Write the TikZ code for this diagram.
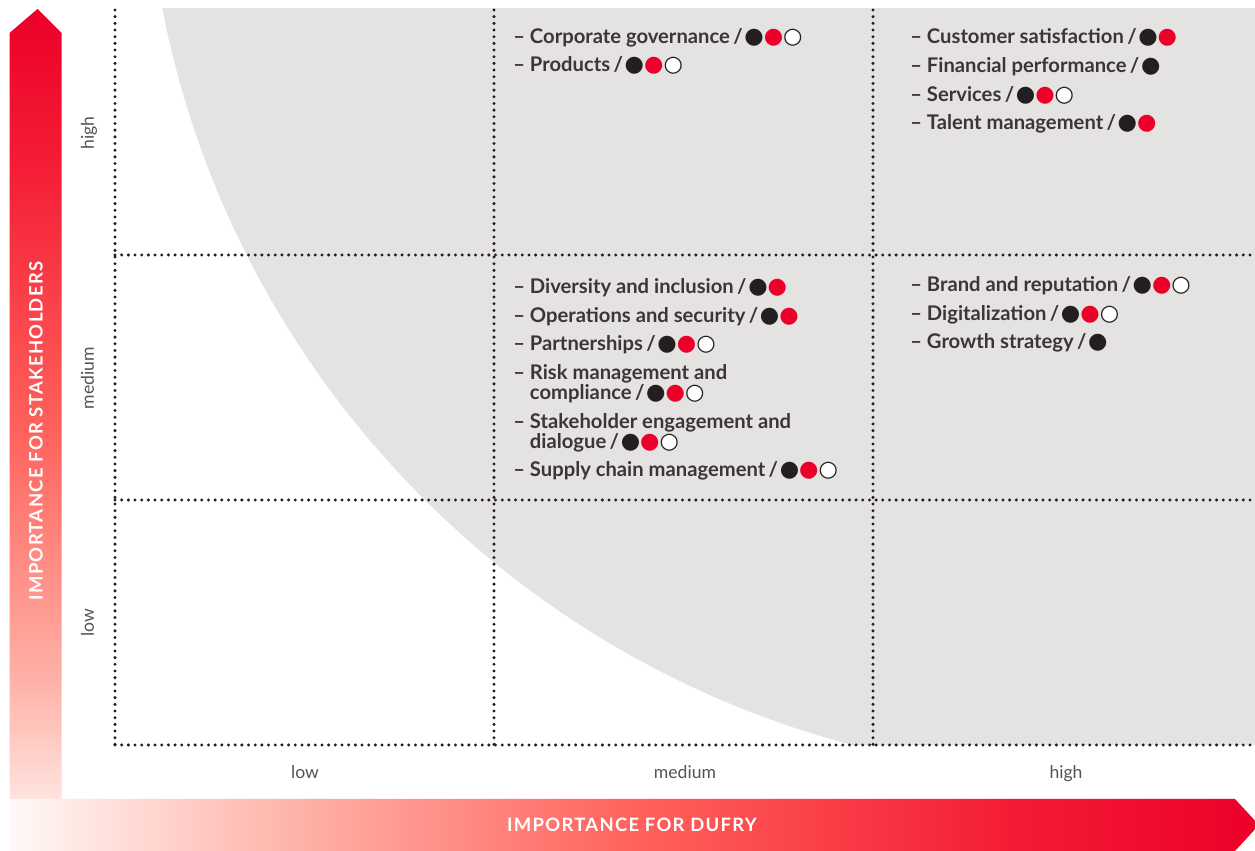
\documentclass[tikz,border=0pt]{standalone}
\usepackage{fontspec}
\setmainfont{Lato}
\newfontfamily\symfont[Scale=1.1]{DejaVu Sans}
\usetikzlibrary{positioning}

\definecolor{dufryred}{RGB}{236,0,41}
\definecolor{redpale}{RGB}{255,249,247}
\definecolor{redlight}{RGB}{255,178,168}
\definecolor{redmid}{RGB}{255,98,92}
\definecolor{reddeep}{RGB}{244,28,52}
\definecolor{matrixgray}{RGB}{228,227,226}
\definecolor{textdark}{RGB}{58,53,54}
\definecolor{dotdark}{RGB}{35,31,32}
\definecolor{axisgray}{RGB}{85,83,83}

\pgfdeclareverticalshading{stakeshade}{100bp}{color(0bp)=(redpale); color(25bp)=(redpale); color(35bp)=(redlight); color(50bp)=(redmid); color(66bp)=(reddeep); color(75bp)=(dufryred); color(100bp)=(dufryred)}
\pgfdeclarehorizontalshading{dufryshade}{100bp}{color(0bp)=(redpale); color(25bp)=(redpale); color(36.5bp)=(redlight); color(50bp)=(redmid); color(65bp)=(reddeep); color(75bp)=(dufryred); color(100bp)=(dufryred)}

% rating dots
\newcommand{\db}{{\symfont\textcolor{dotdark}{●}}}
\newcommand{\dr}{{\symfont\textcolor{dufryred}{●}}}
\newcommand{\dw}{{\symfont\rlap{\textcolor{white}{●}}\textcolor{dotdark}{○}}}
\newcommand{\slsh}{\,/\kern1pt}

\begin{document}
\begin{tikzpicture}[x=0.02cm, y=0.02cm,
	grid/.style={dotdark, line width=1.9pt, line cap=round, dash pattern=on 0pt off 3.8pt},
	tick/.style={text=axisgray, font=\fontsize{10}{12}\selectfont, text height=1.6ex, text depth=0.3ex},
	axislabel/.style={text=white, font=\fontsize{10.5}{12}\selectfont\bfseries\addfontfeatures{LetterSpace=7}},
	topics/.style={anchor=base west, inner sep=0pt, align=left, text=textdark,
		font=\fontsize{11.5}{16.4}\selectfont\bfseries}]
	\useasboundingbox (0,0) rectangle (1255,851);
	\fill[white] (0,0) rectangle (1255,851);
	
	% shaded area of the matrix
	\begin{scope}
		\clip (62,106) rectangle (1255,842);
		\fill[matrixgray] (1094,1024) circle (949);
	\end{scope}
	
	% grid
	\foreach \x in {115,494,873}
		\draw[grid] (\x,841) -- (\x,106);
	\foreach \y in {596,351,106}
		\draw[grid] (115,\y) -- (1255,\y);
	
	% axes
	\shade[shading=stakeshade] (9.5,0) -- (9.5,818) -- (37.5,842) -- (61.7,818) -- (61.7,0) -- cycle;
	\shade[shading=dufryshade] (9.5,0) -- (9.5,52) -- (1235,52) -- (1259,26) -- (1235,0) -- cycle;
	\node[axislabel, rotate=90] (stake) at (36,420) {IMPORTANCE FOR STAKEHOLDERS};
	\node[axislabel] (dufry) at (632,26) {IMPORTANCE FOR DUFRY};
	
	\node[tick, rotate=90] (yhigh) at (88,718) {high};
	\node[tick, rotate=90] (ymed) at (88,473) {medium};
	\node[tick, rotate=90] (ylow) at (88,228) {low};
	\node[tick] (xlow) at (305,78) {low};
	\node[tick] (xmed) at (685,78) {medium};
	\node[tick] (xhigh) at (1066,78) {high};
	
	% topics per cell (anchored on the baseline of the last line)
	\node[topics] (medhigh) at (513,779) {– Corporate governance\slsh\db\dr\dw\\
		– Products\slsh\db\dr\dw};
	\node[topics] (highhigh) at (910,721) {– Customer satisfaction\slsh\db\dr\\
		– Financial performance\slsh\db\\
		– Services\slsh\db\dr\dw\\
		– Talent management\slsh\db\dr};
	\node[topics] (medmed) at (513,374) {– Diversity and inclusion\slsh\db\dr\\
		– Operations and security\slsh\db\dr\\
		– Partnerships\slsh\db\dr\dw\\
		– Risk management and\\[-5.1pt]\phantom{– }compliance\slsh\db\dr\dw\\
		– Stakeholder engagement and\\[-5.1pt]\phantom{– }dialogue\slsh\db\dr\dw\\
		– Supply chain management\slsh\db\dr\dw};
	\node[topics] (highmed) at (910,502) {– Brand and reputation\slsh\db\dr\dw\\
		– Digitalization\slsh\db\dr\dw\\
		– Growth strategy\slsh\db};
\end{tikzpicture}
\end{document}
